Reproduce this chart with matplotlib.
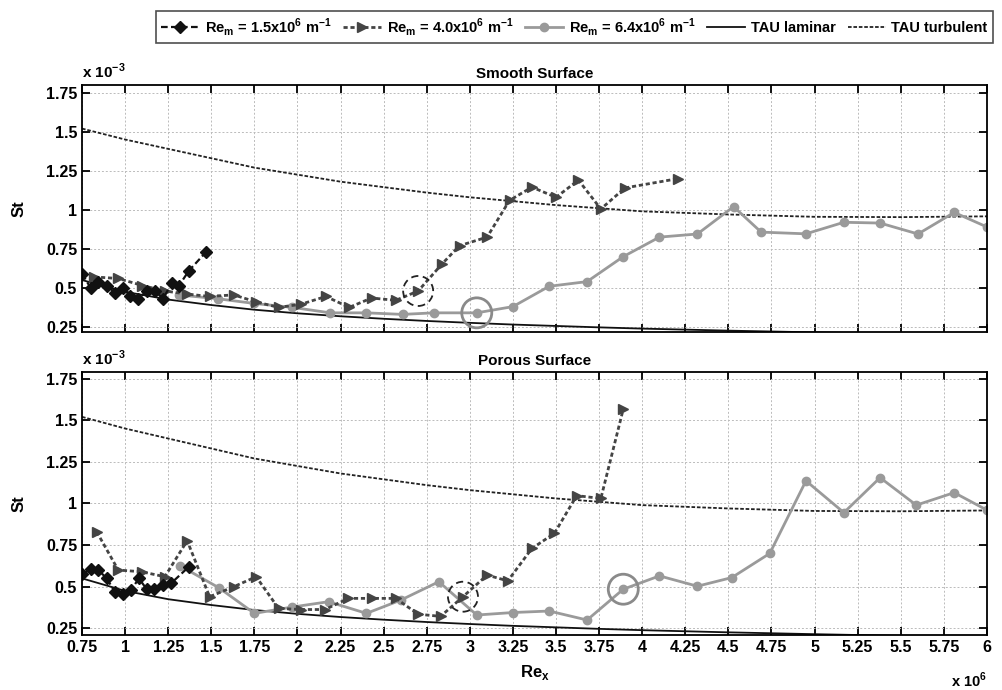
"""
Stanton number vs Re_x for smooth and porous surfaces,
three unit Reynolds numbers plus TAU laminar / turbulent curves.
"""

import matplotlib
matplotlib.use("Agg")
import matplotlib.pyplot as plt
from matplotlib.patches import Circle
from matplotlib.transforms import ScaledTranslation

plt.rcParams['font.family'] = ['Liberation Sans', 'DejaVu Sans']
plt.rcParams['font.weight'] = 'bold'

# ---- data (Re_x in 1e6, St in 1e-3) ----
# Smooth surface
smooth_re15_x = [0.75, 0.80, 0.845, 0.893, 0.94, 0.99, 1.03, 1.077, 1.125, 1.173, 1.22, 1.27, 1.31, 1.37, 1.47]
smooth_re15_st = [0.59, 0.50, 0.54, 0.515, 0.47, 0.50, 0.445, 0.43, 0.48, 0.48, 0.43, 0.53, 0.51, 0.61, 0.73]

smooth_re40_x = [0.82, 0.96, 1.10, 1.23, 1.36, 1.49, 1.63, 1.76, 1.89, 2.02, 2.165, 2.30, 2.43, 2.57,
                 2.70, 2.84, 2.94, 3.10, 3.23, 3.36, 3.50, 3.63, 3.76, 3.90, 4.21]
smooth_re40_st = [0.57, 0.56, 0.515, 0.48, 0.46, 0.445, 0.455, 0.41, 0.375, 0.395, 0.445, 0.375, 0.435, 0.42,
                  0.48, 0.655, 0.77, 0.825, 1.06, 1.145, 1.08, 1.19, 1.005, 1.14, 1.20]

smooth_re64_x = [1.31, 1.54, 1.75, 1.97, 2.19, 2.40, 2.61, 2.79, 3.04, 3.25, 3.46, 3.68, 3.89, 4.10,
                 4.32, 4.53, 4.69, 4.95, 5.17, 5.38, 5.60, 5.81, 6.0]
smooth_re64_st = [0.455, 0.43, 0.40, 0.375, 0.34, 0.34, 0.33, 0.34, 0.34, 0.38, 0.51, 0.54, 0.70, 0.825,
                  0.845, 1.02, 0.857, 0.846, 0.92, 0.915, 0.845, 0.983, 0.89]

# Porous surface
porous_re15_x = [0.75, 0.80, 0.845, 0.893, 0.94, 0.986, 1.034, 1.08, 1.125, 1.17, 1.22, 1.266, 1.37]
porous_re15_st = [0.575, 0.605, 0.60, 0.55, 0.47, 0.455, 0.48, 0.55, 0.485, 0.485, 0.51, 0.52, 0.62]

porous_re40_x = [0.835, 0.96, 1.095, 1.23, 1.36, 1.49, 1.63, 1.76, 1.89, 2.02, 2.16, 2.295, 2.43, 2.57,
                 2.70, 2.83, 2.96, 3.10, 3.22, 3.36, 3.49, 3.62, 3.76, 3.89]
porous_re40_st = [0.83, 0.60, 0.59, 0.56, 0.776, 0.44, 0.50, 0.56, 0.37, 0.363, 0.363, 0.43, 0.43, 0.43,
                  0.335, 0.322, 0.44, 0.57, 0.535, 0.73, 0.82, 1.047, 1.03, 1.567]

porous_re64_x = [1.32, 1.545, 1.75, 1.97, 2.18, 2.40, 2.60, 2.82, 3.04, 3.25, 3.46, 3.68, 3.89, 4.10,
                 4.32, 4.52, 4.74, 4.95, 5.17, 5.38, 5.59, 5.81, 6.0]
porous_re64_st = [0.625, 0.493, 0.34, 0.378, 0.41, 0.34, 0.42, 0.53, 0.33, 0.345, 0.354, 0.30, 0.485, 0.565,
                  0.503, 0.555, 0.70, 1.136, 0.945, 1.155, 0.99, 1.065, 0.96]

# TAU reference curves
tau_x = [0.75, 1.0, 1.25, 1.5, 1.75, 2.0, 2.25, 2.5, 2.75, 3.0, 3.25, 3.5, 3.75, 4.0, 4.5, 5.0, 5.5, 6.0]
tau_lam = [0.55, 0.475, 0.425, 0.39, 0.36, 0.337, 0.318, 0.302, 0.288, 0.276, 0.265, 0.256, 0.247,
           0.239, 0.226, 0.215, 0.205, 0.197]
tau_turb = [1.52, 1.45, 1.39, 1.33, 1.27, 1.225, 1.18, 1.145, 1.11, 1.08, 1.055, 1.03, 1.01, 0.99,
            0.97, 0.955, 0.953, 0.958]

# highlighted transition points: (dashed circle on Re 4.0, solid circle on Re 6.4)
smooth_marks = [(2.70, 0.48), (3.04, 0.34)]
porous_marks = [(2.96, 0.44), (3.89, 0.485)]

x_ticks = [0.75 + 0.25 * i for i in range(22)]
x_tick_labels = ["0.75", "1", "1.25", "1.5", "1.75", "2", "2.25", "2.5", "2.75", "3", "3.25", "3.5",
                 "3.75", "4", "4.25", "4.5", "4.75", "5", "5.25", "5.5", "5.75", "6"]
y_ticks = [0.25, 0.5, 0.75, 1.0, 1.25, 1.5, 1.75]
y_tick_labels = ["0.25", "0.5", "0.75", "1", "1.25", "1.5", "1.75"]


def ring(fig, ax, xy, radius, **kw):
    """Circle of fixed size (inches) centred on a data point."""
    tr = fig.dpi_scale_trans + ScaledTranslation(xy[0], xy[1], ax.transData)
    ax.add_patch(Circle((0, 0), radius, transform=tr, fill=False, clip_on=False, zorder=6, **kw))


def draw_panel(fig, ax, x15, st15, x40, st40, x64, st64, marks, title, ylim):
    ax.plot(tau_x, tau_lam, '-', color="#111111", lw=1.3, label="TAU laminar")
    ax.plot(tau_x, tau_turb, color="#222222", lw=1.3, dashes=(2, 1), label="TAU turbulent")
    ax.plot(x64, st64, '-o', color="#9a9a9a", lw=2, markersize=6,
            label=r"Re$_\mathregular{m}$ = 6.4x10$^\mathregular{6}$ m$^\mathregular{-1}$")
    ax.plot(x40, st40, '>', color="#444444", ls=(0, (1.5, 1)), lw=2, markersize=7,
            label=r"Re$_\mathregular{m}$ = 4.0x10$^\mathregular{6}$ m$^\mathregular{-1}$")
    ax.plot(x15, st15, 'D', color="#111111", ls=(0, (3, 1.5)), lw=1.6, markersize=6,
            label=r"Re$_\mathregular{m}$ = 1.5x10$^\mathregular{6}$ m$^\mathregular{-1}$")

    # circled transition points
    ring(fig, ax, marks[0], 0.15, edgecolor="#222222", lw=1.3, linestyle=(0, (4, 2.5)))
    ring(fig, ax, marks[1], 0.15, edgecolor="#8a8a8a", lw=2)

    ax.set_xlim(0.75, 6.0)
    ax.set_ylim(*ylim)
    ax.set_xticks(x_ticks)
    ax.set_yticks(y_ticks)
    ax.set_yticklabels(y_tick_labels)
    ax.grid(True, color="#bbbbbb", ls=(0, (2, 2)), lw=0.7)
    ax.tick_params(direction='in', top=True, right=True, length=6, width=1.3, labelsize=11.5)
    for s in ax.spines.values():
        s.set_linewidth(1.3)
    ax.set_ylabel("St", fontsize=12, fontweight='bold', labelpad=14)
    ax.set_title(title, fontsize=11, fontweight='bold', pad=5)
    ax.text(0.0, 1.015, r"x 10$^\mathregular{-3}$", transform=ax.transAxes, fontsize=11,
            fontweight='bold', ha='left', va='bottom')


fig = plt.figure(figsize=(10.03, 6.9), dpi=100)
ax_top = fig.add_axes([0.0818, 0.519, 0.9022, 0.358])
ax_bot = fig.add_axes([0.0818, 0.0797, 0.9022, 0.3813])

draw_panel(fig, ax_top, smooth_re15_x, smooth_re15_st, smooth_re40_x, smooth_re40_st,
           smooth_re64_x, smooth_re64_st, smooth_marks, "Smooth Surface", (0.218, 1.80))
draw_panel(fig, ax_bot, porous_re15_x, porous_re15_st, porous_re40_x, porous_re40_st,
           porous_re64_x, porous_re64_st, porous_marks, "Porous Surface", (0.21, 1.79))

ax_top.set_xticklabels([])
ax_bot.set_xticklabels(x_tick_labels)
ax_bot.set_xlabel(r"Re$_\mathregular{x}$", fontsize=12, fontweight='bold', labelpad=6)
ax_bot.text(1.0, -0.135, r"x 10$^\mathregular{6}$", transform=ax_bot.transAxes, fontsize=10.5,
            fontweight='bold', ha='right', va='top')

handles, labels = ax_top.get_legend_handles_labels()
order = [4, 3, 2, 0, 1]
leg = fig.legend([handles[i] for i in order], [labels[i] for i in order], ncol=5,
                 loc='upper right', bbox_to_anchor=(0.997, 0.995), fontsize=10.5,
                 frameon=True, fancybox=False, edgecolor="#222222", handlelength=2.6,
                 handletextpad=0.4, columnspacing=0.8, borderpad=0.35)
leg.get_frame().set_linewidth(1.2)

fig.savefig("out.png", dpi=100)
plt.close(fig)
